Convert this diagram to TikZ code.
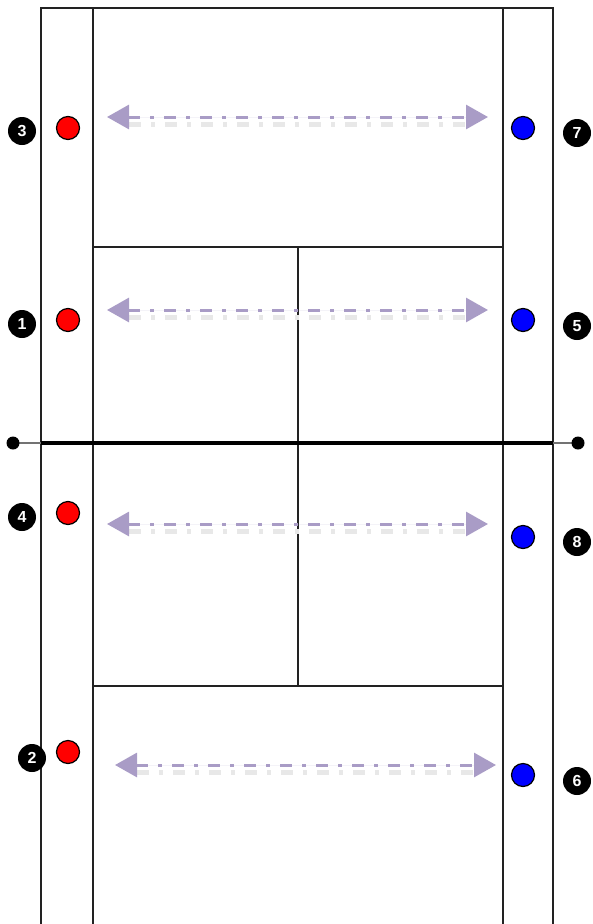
\documentclass[tikz,border=0pt]{standalone}
\usepackage{fontspec}
\setmainfont{Liberation Sans}
\usetikzlibrary{arrows.meta,positioning}
\definecolor{courtInk}{HTML}{222222}
\definecolor{teamRed}{HTML}{FF0000}
\definecolor{teamBlue}{HTML}{0000FF}
\definecolor{moveLilac}{HTML}{A99CC6}
\tikzset{
  court/.style={draw=courtInk, line width=2.8pt},
  netband/.style={draw=black, line width=3.2pt},
  netcord/.style={draw=black!55, line width=1.8pt},
  redp/.style={circle, draw=black, line width=1.2pt, fill=teamRed,
              minimum size=23pt, inner sep=0pt},
  bluep/.style={circle, draw=black, line width=1.2pt, fill=teamBlue,
              minimum size=23pt, inner sep=0pt},
  badge/.style={circle, fill=black, text=white, minimum size=28pt,
              inner sep=0pt, font=\fontsize{16}{16}\selectfont\bfseries},
  move/.style={{Triangle[length=22pt,width=24pt]}-{Triangle[length=22pt,width=24pt]},
              draw=moveLilac, fill=moveLilac, line width=3pt,
              dash pattern=on 12pt off 10pt on 4pt off 10pt},
  moveshade/.style={draw=black!9, line width=5pt,
              dash pattern=on 12pt off 10pt on 4pt off 10pt},
}
\begin{document}
\begin{tikzpicture}[x=1pt,y=-1pt]
  \useasboundingbox (0,0) rectangle (592,924);
  % court lines
  \draw[court] (41,924) -- (41,8) -- (553,8) -- (553,924);
  \draw[court] (93,924) -- (93,8);
  \draw[court] (503,924) -- (503,8);
  \draw[court] (93,247) -- (503,247);
  \draw[court] (93,686) -- (503,686);
  \draw[court] (298,247) -- (298,686);
  % net
  \coordinate (netL) at (13,443);
  \coordinate (netR) at (578,443);
  \coordinate (postL) at (41,443);
  \coordinate (postR) at (553,443);
  \draw[netcord] (netL) -- (netR);
  \draw[netband] (postL) -- (postR);
  \fill (netL) circle (6.5);
  \fill (netR) circle (6.5);
  % movement arrows
  \foreach \i/\xl/\xr/\y in {1/107/488/117,2/107/488/310,3/107/488/524,4/115/496/765}{
    \coordinate (m\i l) at (\xl,\y);
    \coordinate (m\i r) at (\xr,\y);
    \draw[moveshade] ([xshift=22pt,yshift=-7pt]m\i l) -- ([xshift=-20pt,yshift=-7pt]m\i r);
    \draw[move] (m\i l) -- (m\i r);
  }
  % players
  \foreach \n/\y in {3/128,1/320,4/513,2/752}{
    \node[redp] (p\n) at (68,\y) {};
  }
  \foreach \n/\y in {7/128,5/320,8/537,6/775}{
    \node[bluep] (p\n) at (523,\y) {};
  }
  % numbers
  \foreach \n/\x/\y in {3/22/131,1/22/324,4/22/517,2/32/758,
                        7/577/133,5/577/326,8/577/542,6/577/781}{
    \node[badge] (b\n) at (\x,\y) {\n};
  }
\end{tikzpicture}
\end{document}
